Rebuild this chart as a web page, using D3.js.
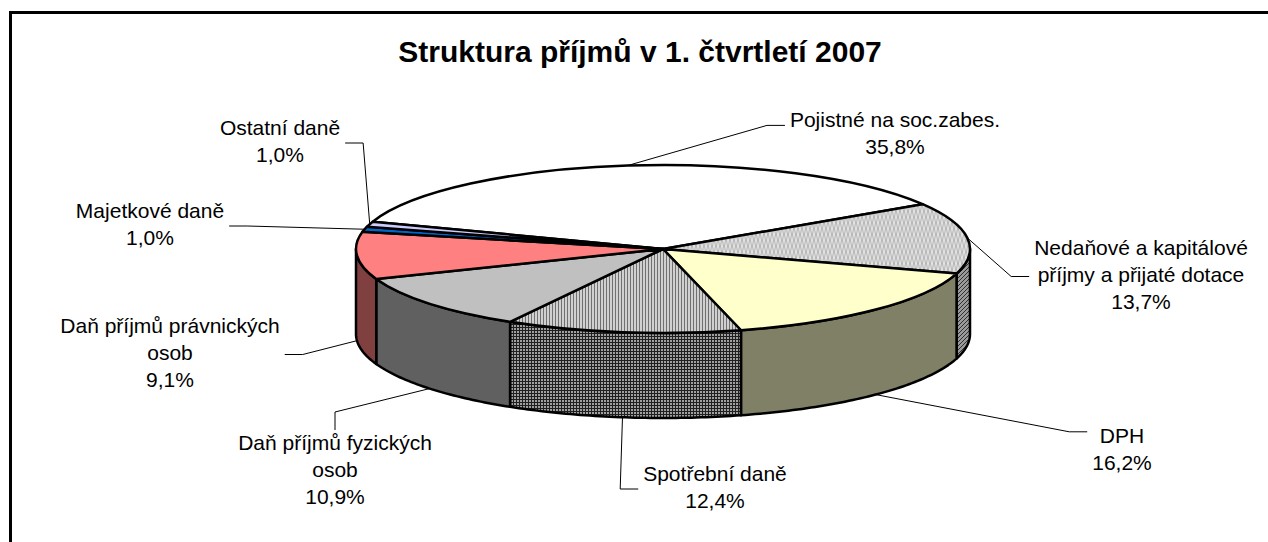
<!DOCTYPE html>
<html>
<head>
<meta charset="utf-8">
<script src="https://cdn.jsdelivr.net/npm/d3@7"></script>
<style>
  body { margin: 0; background: #fff; }
  text { font-family: Arial, "Liberation Sans", sans-serif; fill: #000; }
</style>
</head>
<body>
<svg id="chart" width="1268" height="542"></svg>
<script>
// Chart data
const categories = ["Pojistné na soc.zabes.", "Nedaňové a kapitálové příjmy a přijaté dotace", "DPH",
  "Spotřební daně", "Daň příjmů fyzických osob", "Daň příjmů právnických osob", "Majetkové daně", "Ostatní daně"];
const labelLines = [["Pojistné na soc.zabes."], ["Nedaňové a kapitálové", "příjmy a přijaté dotace"], ["DPH"],
  ["Spotřební daně"], ["Daň příjmů fyzických", "osob"], ["Daň příjmů právnických", "osob"], ["Majetkové daně"], ["Ostatní daně"]];
const values = [35.8, 13.7, 16.2, 12.4, 10.9, 9.1, 1.0, 1.0];

// Styles for each slice: top face and side wall
const topFill = ["#ffffff", "url(#hatchTop)", "#ffffcc", "url(#gridTop)", "#c0c0c0", "#ff8080", "#0066cc", "#ccccff"];
const sideFill = ["#808080", "url(#hatchSide)", "#808066", "url(#gridSide)", "#606060", "#804040", "#003366", "#666680"];

// Label layout: block centre x, first baseline y, where the leader attaches
const labelLayout = [
  {x: 895, y: 127, side: "left", f: 0.3},
  {x: 1141, y: 255, side: "left", f: 0.5},
  {x: 1122, y: 443, side: "left", f: 0.1},
  {x: 715, y: 481, side: "left", f: 0.5},
  {x: 335, y: 450, side: "top", f: 0.5},
  {x: 170, y: 333, side: "right", f: 0.5},
  {x: 150, y: 218, side: "right", f: 0.5},
  {x: 280, y: 135, side: "right", f: 0.5}
];

var cx = 663, cy = 249, rx = 307, ry = 84, depth = 85;
var startDeg = -71;
var fontSize = 21, lineH = 27;

var svg = d3.select("#chart");

// patterns used by some slices
var defs = svg.append("defs");
function hatch(id, bg, fg) {
  var p = defs.append("pattern").attr("id", id).attr("patternUnits", "userSpaceOnUse")
    .attr("width", 4).attr("height", 4);
  p.append("rect").attr("width", 4).attr("height", 4).attr("fill", bg);
  p.append("path").attr("d", "M-1,1 l2,-2 M0,4 l4,-4 M3,5 l2,-2").attr("stroke", fg).attr("stroke-width", 1);
}
function grid(id, bg, fg) {
  var p = defs.append("pattern").attr("id", id).attr("patternUnits", "userSpaceOnUse")
    .attr("width", 3).attr("height", 3);
  p.append("rect").attr("width", 3).attr("height", 3).attr("fill", bg);
  p.append("rect").attr("width", 3).attr("height", 1).attr("fill", fg);
  p.append("rect").attr("width", 1).attr("height", 3).attr("fill", fg);
}
hatch("hatchTop", "#ffffff", "#7a7a7a");
hatch("hatchSide", "#9a9a9a", "#303030");
grid("gridTop", "#ffffff", "#707070");
grid("gridSide", "#a0a0a0", "#202020");

// frame
svg.append("rect").attr("x", 10.5).attr("y", 12.5).attr("width", 1400).attr("height", 700)
  .attr("fill", "none").attr("stroke", "#000").attr("stroke-width", 3);

// title
svg.append("text").attr("x", 640).attr("y", 62).attr("text-anchor", "middle")
  .style("font-size", "30px").style("font-weight", "bold")
  .text("Struktura příjmů v 1. čtvrtletí 2007");

var s0 = startDeg * Math.PI / 180;
var pie = d3.pie().sort(null).value(d => d).startAngle(s0).endAngle(s0 + 2 * Math.PI);
var arcs = pie(values);

function pt(a, dz) {
  return [cx + rx * Math.sin(a), cy - ry * Math.cos(a) + dz];
}

// side walls of the front half
var line = d3.line();
var walls = svg.append("g");
arcs.forEach(function(a, i) {
  var lo = Math.max(a.startAngle, Math.PI / 2), hi = Math.min(a.endAngle, 3 * Math.PI / 2);
  if (lo >= hi) return;
  var n = Math.max(2, Math.ceil((hi - lo) * 60));
  var top = d3.range(n + 1).map(k => pt(lo + (hi - lo) * k / n, 0));
  var bottom = d3.range(n + 1).map(k => pt(hi - (hi - lo) * k / n, depth));
  walls.append("path").attr("d", line(top.concat(bottom)) + "Z")
    .attr("fill", sideFill[i]).attr("stroke", "#000").attr("stroke-width", 2.5)
    .attr("stroke-linejoin", "round");
});

// top faces: a circular d3.arc squashed into an ellipse
var arc = d3.arc().innerRadius(0).outerRadius(rx);
svg.append("g").attr("transform", "translate(" + cx + "," + cy + ") scale(1," + (ry / rx) + ")")
  .selectAll("path").data(arcs).enter().append("path")
  .attr("d", arc)
  .attr("fill", (d, i) => topFill[i])
  .attr("stroke", "#000").attr("stroke-width", 2.5)
  .attr("stroke-linejoin", "round")
  .attr("vector-effect", "non-scaling-stroke");

// labels and leader lines
var fmt = d3.format(".1f");
var labels = svg.append("g");
var leaders = svg.append("g");
arcs.forEach(function(a, i) {
  var L = labelLayout[i];
  var lines = labelLines[i].concat([fmt(values[i]).replace(".", ",") + "%"]);
  var t = labels.append("text").attr("text-anchor", "middle").style("font-size", fontSize + "px");
  lines.forEach(function(s, k) {
    t.append("tspan").attr("x", L.x).attr("y", L.y + k * lineH).text(s);
  });
  var w = 0;
  t.selectAll("tspan").each(function() { w = Math.max(w, this.getComputedTextLength()); });
  var boxTop = L.y - 16, boxBot = L.y + (lines.length - 1) * lineH + 5;
  var left = L.x - w / 2 - 5, right = L.x + w / 2 + 5;

  var mid = (a.startAngle + a.endAngle) / 2;
  var front = Math.cos(mid) < 0;
  var p = pt(mid, front ? depth : 0);
  var e, elbow;
  var ay = boxTop + (boxBot - boxTop) * L.f;
  if (L.side === "left") { e = [left, ay]; elbow = [left - 18, ay]; }
  else if (L.side === "right") { e = [right, ay]; elbow = [right + 18, ay]; }
  else { e = [L.x, boxTop - 4]; elbow = [L.x, boxTop - 22]; }
  leaders.append("path").attr("d", line([p, elbow, e]))
    .attr("fill", "none").attr("stroke", "#000").attr("stroke-width", 1);
});
</script>
</body>
</html>
